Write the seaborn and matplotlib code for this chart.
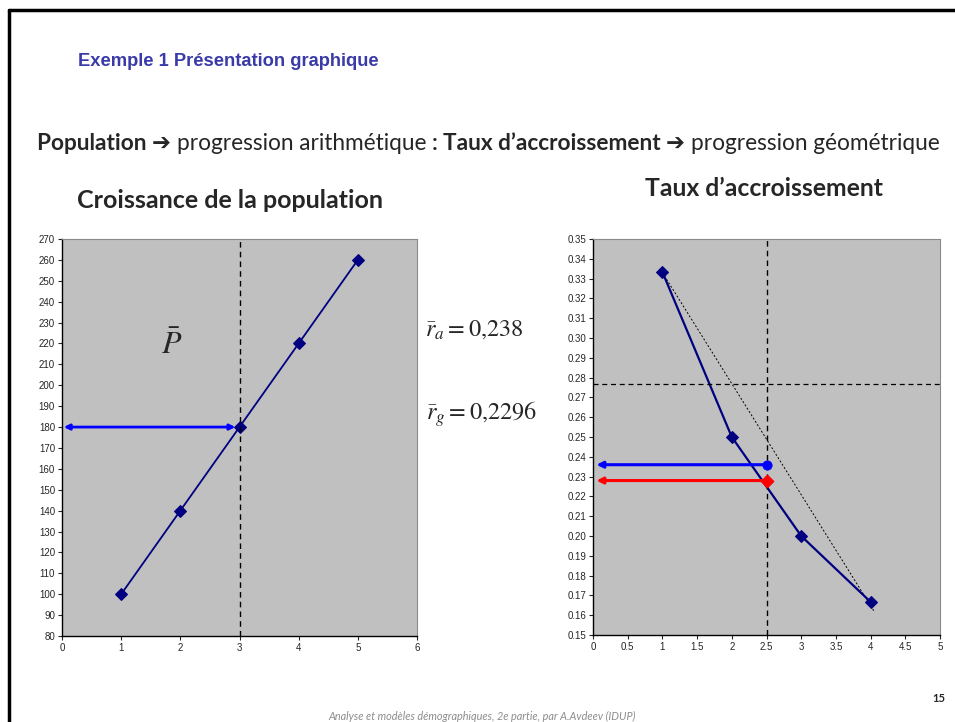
import matplotlib
matplotlib.use("Agg")
import matplotlib.pyplot as plt
import seaborn as sns
import pandas as pd
import numpy as np

# données
annees = [1, 2, 3, 4, 5]
population = [100, 140, 180, 220, 260]
pop_moyenne = 180
x_milieu_pop = 3

rang_taux = [1, 2, 3, 4]
taux = [0.3333, 0.25, 0.20, 0.1667]
tendance_x = [1, 4.05]
tendance_y = [0.333, 0.162]
x_milieu_taux = 2.5
niveau_pointille = 0.277
taux_arith = 0.236
taux_geom = 0.228

W, H = 955, 722
sns.set_theme(style="ticks")
plt.rcParams['font.family'] = ['Liberation Sans', 'DejaVu Sans']
plt.rcParams['mathtext.fontset'] = 'stix'

fig = plt.figure(figsize=(W / 100, H / 100), dpi=100)


def px_axes(l, t, r, b):
    return fig.add_axes([l / W, 1 - b / H, (r - l) / W, (b - t) / H])


def fx(x):
    return x / W


def fy(y):
    return 1 - y / H


# cadre de la diapositive
fig.add_artist(plt.Line2D([fx(9), fx(9)], [fy(10), 0], color='black', lw=2.5))
fig.add_artist(plt.Line2D([fx(9), 1], [fy(10), fy(10)], color='black', lw=2.5))

# titres
fig.text(fx(78), fy(61), "Exemple 1 Présentation graphique", color='#3a3aa8',
         fontsize=13.2, fontweight='bold', va='center', ha='left')

morceaux = [("Population ", 'bold'), ("➔ ", 'bold'), ("progression arithmétique ", 'normal'),
            (": ", 'bold'), ("Taux d’accroissement ", 'bold'), ("➔ ", 'bold'),
            ("progression géométrique", 'normal')]
renderer = fig.canvas.get_renderer()
x_courant = 37
for txt, poids in morceaux:
    t = fig.text(fx(x_courant), fy(144), txt, fontsize=16.3, fontweight=poids,
                 family=['Lato', 'DejaVu Sans'], va='center', ha='left')
    x_courant += t.get_window_extent(renderer).width

fig.text(fx(230), fy(201), "Croissance de la population", fontsize=18,
         fontweight='bold', family=['Lato', 'DejaVu Sans'], ha='center', va='center')
fig.text(fx(764), fy(189), "Taux d’accroissement", fontsize=17.8,
         fontweight='bold', family=['Lato', 'DejaVu Sans'], ha='center', va='center')

fig.text(fx(425), fy(330), r"$\bar{r}_a = 0{,}238$", fontsize=17.5, ha='left', va='center')
fig.text(fx(426), fy(414), r"$\bar{r}_g = 0{,}2296$", fontsize=17.5, ha='left', va='center')

fig.text(fx(482), fy(716), "Analyse et modèles démographiques, 2e partie, par A.Avdeev (IDUP)",
         fontsize=7.8, style='italic', color='#8c8c8c', family=['Lato', 'DejaVu Sans'],
         ha='center', va='center')
fig.text(fx(939), fy(699), "15", fontsize=8, fontweight='bold',
         family=['Lato', 'DejaVu Sans'], ha='center', va='center')


def style_axe(ax):
    ax.set_facecolor('#c0c0c0')
    for c in ['top', 'right']:
        ax.spines[c].set_color('#8a8a8a')
        ax.spines[c].set_linewidth(0.8)
    for c in ['left', 'bottom']:
        ax.spines[c].set_color('black')
        ax.spines[c].set_linewidth(1.0)
    ax.tick_params(labelsize=7, length=3, width=0.8, direction='out', pad=2)
    ax.set_xlabel('')
    ax.set_ylabel('')


# graphique de gauche : population
ax1 = px_axes(62, 239, 417, 636)
df_pop = pd.DataFrame({'annee': annees, 'pop': population})
sns.lineplot(data=df_pop, x='annee', y='pop', ax=ax1, color='#000080', lw=1.3,
             marker='D', markersize=6, markeredgecolor='#000080')
ax1.axvline(x_milieu_pop, color='black', ls=(0, (4, 3)), lw=1.0)
ax1.annotate('', xy=(0.03, pop_moyenne), xytext=(x_milieu_pop - 0.07, pop_moyenne),
             arrowprops=dict(arrowstyle='<|-|>', color='#0000ff', lw=2,
                             mutation_scale=8, shrinkA=0, shrinkB=0))
ax1.text(1.86, 219, r"$\bar{P}$", fontsize=23, ha='center', va='center')
ax1.set_xlim(0, 6)
ax1.set_ylim(80, 270)
ax1.set_xticks(range(0, 7))
ax1.set_yticks(range(80, 271, 10))
style_axe(ax1)

# graphique de droite : taux
ax2 = px_axes(593, 239, 940, 635)
df_taux = pd.DataFrame({'rang': rang_taux, 'taux': taux})
ax2.plot(tendance_x, tendance_y, color='black', ls=(0, (2, 2)), lw=0.7)
sns.lineplot(data=df_taux, x='rang', y='taux', ax=ax2, color='#000080', lw=1.6,
             marker='D', markersize=6, markeredgecolor='#000080')
ax2.axvline(x_milieu_taux, color='black', ls=(0, (4, 3)), lw=1.0)
ax2.axhline(niveau_pointille, color='black', ls=(0, (4, 3)), lw=0.9)
for niveau, coul, mk in [(taux_arith, '#0000ff', 'o'), (taux_geom, '#ff0000', 'D')]:
    ax2.annotate('', xy=(0.05, niveau), xytext=(x_milieu_taux, niveau),
                 arrowprops=dict(arrowstyle='-|>', color=coul, lw=2.2,
                                 mutation_scale=9, shrinkA=0, shrinkB=0))
    sns.scatterplot(x=[x_milieu_taux], y=[niveau], ax=ax2, color=coul, marker=mk,
                    s=45, edgecolor=coul, zorder=5)
ax2.set_xlim(0, 5)
ax2.set_ylim(0.15, 0.35)
ax2.set_xticks(np.arange(0, 5.01, 0.5))
ax2.set_xticklabels(['0', '0.5', '1', '1.5', '2', '2.5', '3', '3.5', '4', '4.5', '5'])
ax2.set_yticks(np.arange(0.15, 0.351, 0.01))
ax2.set_yticklabels([f"{v:.2f}" for v in np.arange(0.15, 0.351, 0.01)])
style_axe(ax2)

fig.savefig("out.png", dpi=100)
